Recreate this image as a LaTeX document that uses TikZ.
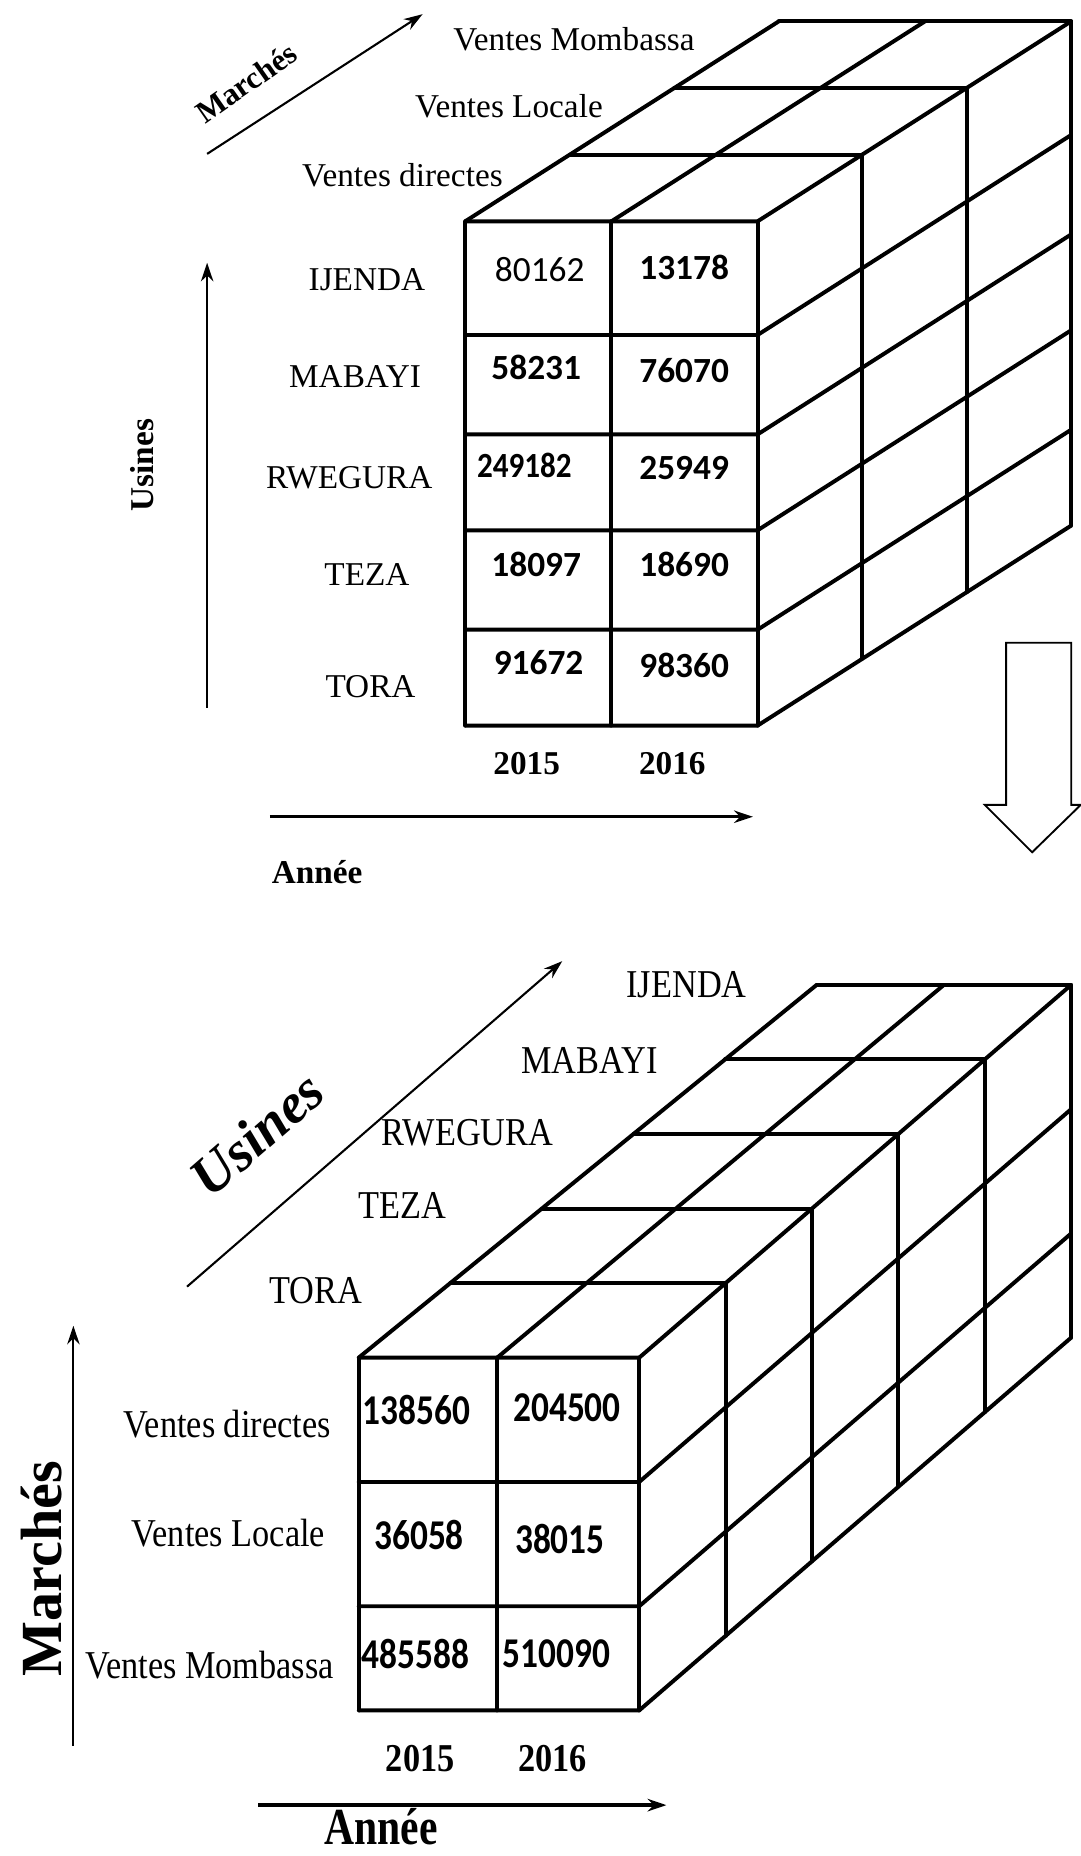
\documentclass[tikz,border=0pt]{standalone}
\usepackage{fontspec}
\setmainfont{Liberation Serif}
\newfontfamily\calib{Carlito}
\usetikzlibrary{arrows.meta}
\begin{document}
\begin{tikzpicture}[x=0.02cm,y=-0.02cm,
  cube/.style={line width=1.9pt,line cap=round,line join=round},
  axisarrow/.style={line width=1pt,-{Stealth[length=9pt,width=6pt]}},
  lab/.style={font=\fontsize{16}{16}\selectfont,inner sep=0pt},
  blab/.style={font=\fontsize{16}{16}\selectfont\bfseries,inner sep=0pt},
  num/.style={font=\calib\fontsize{17}{17}\selectfont\bfseries,inner sep=0pt},
  numl/.style={font=\calib\fontsize{17}{17}\selectfont,inner sep=0pt},
  lab2/.style={font=\fontsize{16.5}{16.5}\selectfont,inner sep=0pt,yscale=1.15},
  num2/.style={font=\calib\fontsize{17}{17}\selectfont\bfseries,inner sep=0pt,yscale=1.2},
  bigt/.style={font=\fontsize{28}{28}\selectfont\bfseries,inner sep=0pt}
]
\useasboundingbox (0,0) rectangle (913,1568);
\fill[white] (0,0) rectangle (913,1568);

% ================= TOP CUBE =================
\foreach \c in {0,0.5,1} \draw[cube] (393+\c*247,187) -- (393+\c*247,613);
\foreach \r in {0,96,180,261,345,426} \draw[cube] (393,187+\r) -- (640,187+\r) -- ++(265,-169);
\foreach \k in {1,2,3} \draw[cube] (393+88.33*\k,187-56.33*\k) -- ++(247,0) -- ++(0,426);
\foreach \c in {0,0.5} \draw[cube] (393+\c*247,187) -- ++(265,-169);

\node[lab] (tm1) at (485,33) {Ventes Mombassa};
\node[lab] (tm2) at (430,90) {Ventes Locale};
\node[lab] (tm3) at (340,148) {Ventes directes};
\node[lab] (tu1) at (310,236) {IJENDA};
\node[lab] (tu2) at (300,318) {MABAYI};
\node[lab] (tu3) at (295,404) {RWEGURA};
\node[lab] (tu4) at (310,485) {TEZA};
\node[lab] (tu5) at (313,580) {TORA};

\node[numl] (n11) at (456,228) {80162};
\node[num] (n12) at (578,226) {13178};
\node[num] (n21) at (453,310) {58231};
\node[num] (n22) at (578,313) {76070};
\node[num,xscale=0.88] (n31) at (443,393) {249182};
\node[num] (n32) at (578,395) {25949};
\node[num] (n41) at (453,477) {18097};
\node[num] (n42) at (578,477) {18690};
\node[num] (n51) at (455,560) {91672};
\node[num] (n52) at (578,562) {98360};

\node[blab] (ty1) at (445,645) {2015};
\node[blab] (ty2) at (568,645) {2016};
\node[blab] (tannee) at (268,737) {Année};
\node[blab,rotate=90] (tusines) at (120,393) {Usines};
\node[font=\fontsize{15}{15}\selectfont\bfseries,inner sep=0pt,rotate=35] (tmarches) at (208,70) {Marchés};

\coordinate (ta1) at (175,598); \coordinate (ta2) at (175,222);
\coordinate (tb1) at (228,690); \coordinate (tb2) at (636,690);
\coordinate (tc1) at (175,130); \coordinate (tc2) at (357,12);
\draw[axisarrow] (ta1) -- (ta2);
\draw[axisarrow,line width=1.3pt] (tb1) -- (tb2);
\draw[axisarrow] (tc1) -- (tc2);

% ================= DOWN ARROW =================
\draw[line width=0.9pt,line join=miter,fill=white] (850,543) -- (905,543) -- (905,680) -- (913,680) -- (872,720) -- (832,680) -- (850,680) -- cycle;

% ================= BOTTOM CUBE =================
\foreach \xx in {303,420,540} \draw[cube] (\xx,1147) -- (\xx,1445);
\foreach \r in {0,105,210,298} \draw[cube] (303,1147+\r) -- (540,1147+\r) -- (905,832+\r);
\foreach \k in {1,...,5} \draw[cube] (303+77.4*\k,1147-63*\k) -- (540+73*\k,1147-63*\k) -- ++(0,298);
\draw[cube] (303,1147) -- (690,832);
\draw[cube] (420,1147) -- (797.5,832);

\node[lab2] (bu1) at (580,832) {IJENDA};
\node[lab2] (bu2) at (498,896) {MABAYI};
\node[lab2] (bu3) at (395,957) {RWEGURA};
\node[lab2] (bu4) at (340,1018) {TEZA};
\node[lab2] (bu5) at (267,1090) {TORA};

\node[lab2] (bm1) at (192,1203) {Ventes directes};
\node[lab2] (bm2) at (193,1295) {Ventes Locale};
\node[lab2] (bm3) at (177,1407) {Ventes Mombassa};

\node[num2] (m11) at (352,1191) {138560};
\node[num2] (m12) at (479,1189) {204500};
\node[num2] (m21) at (354,1297) {36058};
\node[num2] (m22) at (473,1300) {38015};
\node[num2] (m31) at (351,1397) {485588};
\node[num2] (m32) at (470,1397) {510090};

\node[font=\fontsize{16.5}{16.5}\selectfont\bfseries,inner sep=0pt,yscale=1.15] (by1) at (355,1486) {2015};
\node[font=\fontsize{16.5}{16.5}\selectfont\bfseries,inner sep=0pt,yscale=1.15] (by2) at (467,1486) {2016};

\node[font=\fontsize{20}{20}\selectfont\bfseries,inner sep=0pt,yscale=1.25] (bannee) at (322,1543) {Année};
\node[bigt,rotate=90] (bmarches) at (35,1325) {Marchés};
\node[font=\fontsize{27}{27}\selectfont\bfseries\itshape,inner sep=0pt,rotate=41] (busines) at (217,958) {Usines};

\coordinate (ba1) at (62,1475); \coordinate (ba2) at (62,1120);
\coordinate (bb1) at (218,1525); \coordinate (bb2) at (563,1525);
\coordinate (bc1) at (158,1087); \coordinate (bc2) at (475,812);
\draw[axisarrow] (ba1) -- (ba2);
\draw[axisarrow,line width=1.6pt] (bb1) -- (bb2);
\draw[axisarrow] (bc1) -- (bc2);
\end{tikzpicture}
\end{document}
